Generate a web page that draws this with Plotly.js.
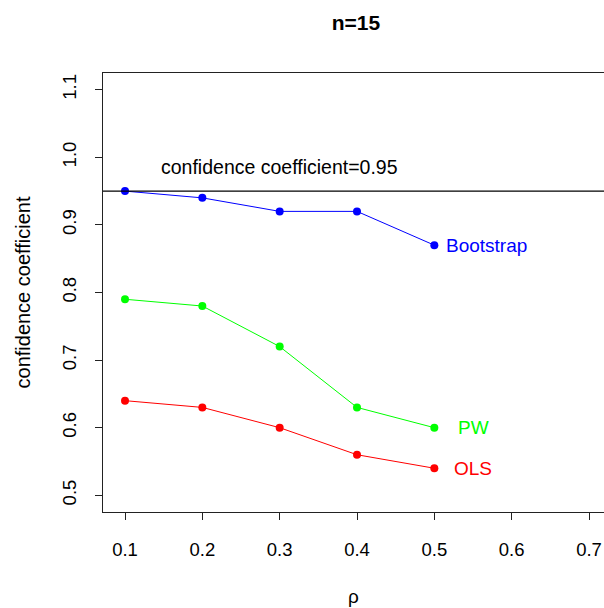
<!DOCTYPE html>
<html>
<head>
<meta charset="utf-8">
<script src="https://cdn.plot.ly/plotly-3.0.1.min.js"></script>
<style>html,body{margin:0;padding:0;background:#fff;}</style>
</head>
<body>
<div id="chart" style="width:604px;height:608px;"></div>
<script>
// Data
const rho = [0.1, 0.2, 0.3, 0.4, 0.5];
const bootstrap = [0.95, 0.94, 0.92, 0.92, 0.87];
const pw = [0.79, 0.78, 0.72, 0.63, 0.60];
const ols = [0.64, 0.63, 0.60, 0.56, 0.54];
const xTicks = [0.1, 0.2, 0.3, 0.4, 0.5, 0.6, 0.7];
const yTicks = [0.5, 0.6, 0.7, 0.8, 0.9, 1.0, 1.1];
const refLevel = 0.95;

const font = "Liberation Sans, Arial, sans-serif";

function series(y, color, name) {
  return {
    x: rho, y: y, name: name, type: "scatter", mode: "lines+markers",
    line: {color: color, width: 1},
    marker: {color: color, size: 8},
    showlegend: false, hoverinfo: "none"
  };
}

const data = [
  series(bootstrap, "#0000FF", "Bootstrap"),
  series(pw, "#00FF00", "PW"),
  series(ols, "#FF0000", "OLS")
];

const layout = {
  width: 604, height: 608,
  margin: {l: 103, r: 0, t: 73, b: 96},
  paper_bgcolor: "#fff", plot_bgcolor: "#fff",
  font: {family: font, size: 18.5, color: "#000"},
  title: {text: "<b>n=15</b>", x: 356/604, xanchor: "center", xref: "container",
          y: 1 - 23/608, yanchor: "middle", yref: "container",
          font: {family: font, size: 21, color: "#000"}},
  xaxis: {
    range: [0.07155, 0.7194], tickvals: xTicks, ticktext: xTicks.map(v => v.toFixed(1)),
    showgrid: false, zeroline: false, showline: true, mirror: true,
    linecolor: "#222", linewidth: 1, ticks: "outside", ticklen: 7, tickcolor: "#222",
    ticklabelstandoff: 14,
    title: {text: "ρ", standoff: 30, font: {family: font, size: 19}}
  },
  yaxis: {
    range: [0.4753, 1.1247], tickvals: yTicks, ticktext: yTicks.map(v => v.toFixed(1)),
    showgrid: false, zeroline: false, showline: true, mirror: false,
    linecolor: "#222", linewidth: 1, ticks: "outside", ticklen: 7, tickcolor: "#222",
    tickangle: -90, ticklabelstandoff: 12,
    title: {text: "confidence coefficient", standoff: 22, font: {family: font, size: 20}}
  },
  shapes: [
    {type: "line", xref: "paper", x0: 0, x1: 1, yref: "y", y0: refLevel, y1: refLevel,
     line: {color: "#000", width: 1.3}}
  ],
  annotations: [
    {x: 0.3, y: 0.985, xref: "x", yref: "y", text: "confidence coefficient=0.95",
     showarrow: false, xanchor: "center", yanchor: "middle", font: {family: font, size: 19.5, color: "#000"}},
    {x: 0.568, y: bootstrap[4], xref: "x", yref: "y", text: "Bootstrap",
     showarrow: false, xanchor: "center", yanchor: "middle", font: {family: font, size: 19, color: "#0000FF"}},
    {x: 0.55, y: pw[4], xref: "x", yref: "y", text: "PW",
     showarrow: false, xanchor: "center", yanchor: "middle", font: {family: font, size: 19, color: "#00FF00"}},
    {x: 0.55, y: ols[4], xref: "x", yref: "y", text: "OLS",
     showarrow: false, xanchor: "center", yanchor: "middle", font: {family: font, size: 19, color: "#FF0000"}}
  ]
};

Plotly.newPlot("chart", data, layout, {displayModeBar: false, staticPlot: true});
</script>
</body>
</html>
